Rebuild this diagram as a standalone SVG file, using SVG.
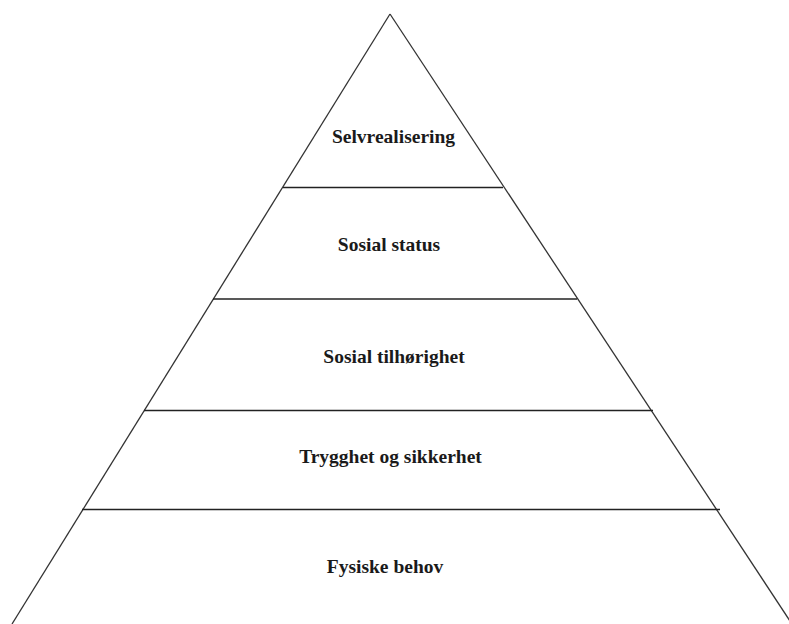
<svg xmlns="http://www.w3.org/2000/svg" width="789" height="624" viewBox="0 0 789 624">
<style>
.edge{stroke:#333;stroke-width:1.3;fill:none}
.tier{stroke:#222;stroke-width:1.6;fill:none}
.lbl{font-family:"Liberation Serif","Times New Roman",serif;font-weight:bold;font-size:19.5px;fill:#1a1a1a;text-anchor:middle}
</style>
<rect width="789" height="624" fill="#fff"/>
<g id="connectors">
<line class="edge" x1="390" y1="14" x2="12" y2="624"/>
<line class="edge" x1="390" y1="14" x2="792" y2="624"/>
<line class="tier" x1="283" y1="187.5" x2="503" y2="187.5"/>
<line class="tier" x1="213" y1="299" x2="577" y2="299"/>
<line class="tier" x1="144" y1="410.5" x2="653" y2="410.5"/>
<line class="tier" x1="82" y1="509.5" x2="720" y2="509.5"/>
</g>
<g id="selvrealisering"><text class="lbl" x="393.5" y="143">Selvrealisering</text></g>
<g id="sosial-status"><text class="lbl" x="389" y="251">Sosial status</text></g>
<g id="sosial-tilhorighet"><text class="lbl" x="394" y="363">Sosial tilhørighet</text></g>
<g id="trygghet"><text class="lbl" x="390.5" y="463">Trygghet og sikkerhet</text></g>
<g id="fysiske-behov"><text class="lbl" x="385" y="573">Fysiske behov</text></g>
</svg>
